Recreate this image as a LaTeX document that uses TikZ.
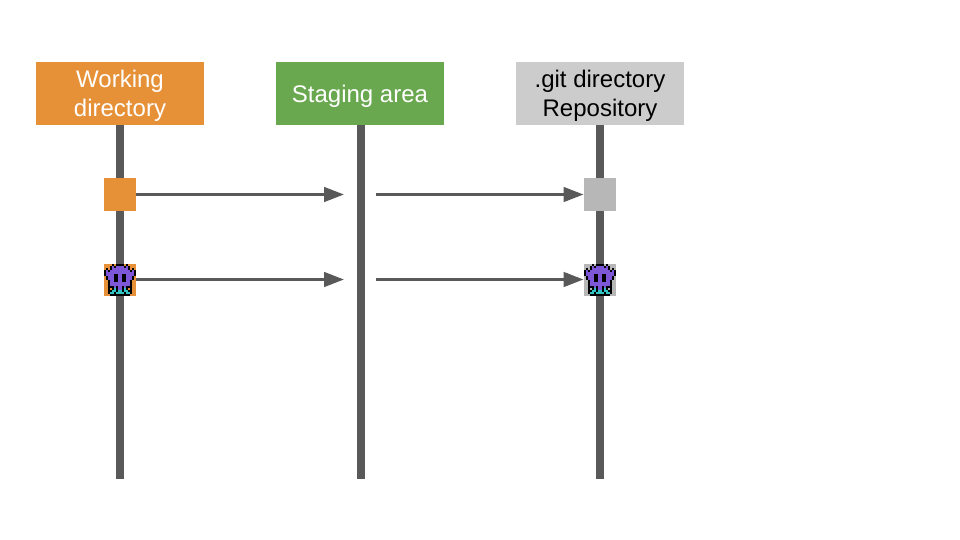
\documentclass[tikz,border=0pt]{standalone}
\usepackage{fontspec}
\setmainfont{Liberation Sans}
\usetikzlibrary{arrows.meta}
\definecolor{orangeC}{HTML}{E69138}
\definecolor{greenC}{HTML}{6AA84F}
\definecolor{greyC}{HTML}{CCCCCC}
\definecolor{squareC}{HTML}{B7B7B7}
\definecolor{lineC}{HTML}{595959}
\definecolor{purpC}{HTML}{7E57D8}
\definecolor{cyanC}{HTML}{2FC4C4}
\tikzset{
  header/.style={minimum width=168.5pt,minimum height=63.5pt,inner sep=0pt},
  headertext/.style={inner sep=0pt,align=center,font=\fontsize{24pt}{29pt}\selectfont},
  lifeline/.style={draw=lineC,line width=8pt},
  msg/.style={draw=lineC,line width=3pt,-{Triangle[length=20pt,width=14.5pt]}},
  marker/.style={minimum size=32.5pt,inner sep=0pt},
}
\newcount\pxcol
\newcommand{\pxcell}[1]{%
  \if#1K\fill[black] ({\pxX+2*\the\pxcol},{\pxY}) rectangle +(2,2);\fi
  \if#1P\fill[purpC] ({\pxX+2*\the\pxcol},{\pxY}) rectangle +(2,2);\fi
  \if#1C\fill[cyanC] ({\pxX+2*\the\pxcol},{\pxY}) rectangle +(2,2);\fi
  \global\advance\pxcol by 1\relax}
\def\pxscan#1{\ifx#1;\else\pxcell{#1}\expandafter\pxscan\fi}
\newcommand{\sprite}[2]{%
  \def\pxX{#1}%
  \foreach \r/\s in {
    0/ooooKoKKKKoKoooo,
    1/oooKPKPPPPKPKooo,
    2/oKoKPPPPPPPPKoKo,
    3/KPKPPPPPPPPPPKPK,
    4/KPPPPPPPPPPPPPPK,
    5/KPPPPKKPPKKPPPPK,
    6/oKPPPKKPPKKPPPKo,
    7/oKPPPKKPPKKPPPKo,
    8/ooKPPKKPPKKPPKoo,
    9/ooKPPPPPPPPPPKoo,
    10/ooKPPPPPPPPPPKoo,
    11/ooKKKPKPPKPKKKoo,
    12/ooKoKCKPPKCKoKoo,
    13/ooKKCCKCCKCCKKoo,
    14/ooKCCKCCCCKCCKoo,
    15/oooKKKKKKKKKKooo}{%
    \pgfmathsetmacro\pxY{#2+2*\r}%
    \global\pxcol=0\relax
    \expandafter\pxscan\s;%
  }}
\begin{document}
\begin{tikzpicture}[x=1pt,y=-1pt]
\useasboundingbox[fill=white] (0,0) rectangle (960,540);
\node[header,fill=orangeC] (work) at (120,93.5) {};
\node[header,fill=greenC] (stage) at (360,93.5) {};
\node[header,fill=greyC] (repo) at (600,93.5) {};
\node[headertext,text=white] (workT) at (120,96) {Working\\directory};
\node[headertext,text=white] (stageT) at (360,96) {Staging area};
\node[headertext,text=black] (repoT) at (600,96) {.git directory\\Repository};
\coordinate (workEnd) at (120,478.5);
\coordinate (stageEnd) at (360.5,478.5);
\coordinate (repoEnd) at (600,478.5);
\draw[lifeline] (work.south) -- (workEnd);
\draw[lifeline] (stage.south -| stageEnd) -- (stageEnd);
\draw[lifeline] (repo.south) -- (repoEnd);
\node[marker,fill=orangeC] (wa) at (120,194.5) {};
\node[marker,fill=orangeC] (wb) at (120,280) {};
\node[marker,fill=squareC] (ra) at (600,194.5) {};
\node[marker,fill=squareC] (rb) at (600,280) {};
\coordinate (sa1) at (344,194.5);
\coordinate (sa2) at (376,194.5);
\coordinate (sb1) at (344,279.5);
\coordinate (sb2) at (376,279.5);
\draw[msg] (wa.east) -- (sa1);
\draw[msg] (sa2) -- (ra.west);
\draw[msg] (wb.east |- sb1) -- (sb1);
\draw[msg] (sb2) -- (rb.west |- sb2);
\sprite{104}{264}
\sprite{584}{264}
\end{tikzpicture}
\end{document}
